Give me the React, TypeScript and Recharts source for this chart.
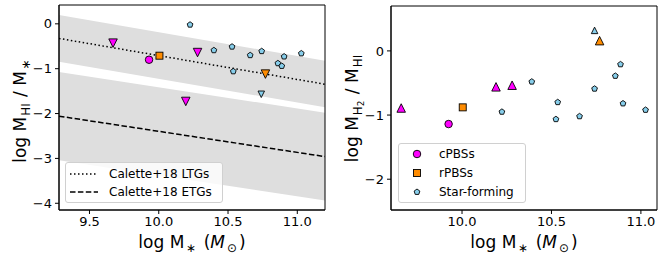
import React from "react";
import { ComposedChart, Scatter, Line, Area, XAxis, YAxis, ReferenceArea } from "recharts";

// Calette+18 relations, read at the two edges of the left panel
const caletteX = [9.28, 11.2];
const ltgMid = [-0.325, -1.346];
const ltgLow = [-0.845, -1.86];
const ltgHigh = [0.196, -0.825];
const etgMid = [-2.058, -2.96];
const etgLow = [-3.04, -3.94];
const etgHigh = [-1.076, -1.98];

// left panel: log MHI / M*
const hiCpbs = [{ x: 9.93, y: -0.8 }];
const hiRpbs = [{ x: 10.005, y: -0.71 }];
const hiCpbsLim = [
  { x: 9.67, y: -0.43 },
  { x: 10.28, y: -0.64 },
  { x: 10.195, y: -1.73 },
];
const hiRpbsLim = [{ x: 10.77, y: -1.12 }];
const hiSfLim = [{ x: 10.74, y: -1.57 }];
const hiSf = [
  { x: 10.226, y: -0.02 },
  { x: 10.398, y: -0.59 },
  { x: 10.529, y: -0.51 },
  { x: 10.538, y: -1.06 },
  { x: 10.66, y: -0.7 },
  { x: 10.743, y: -0.61 },
  { x: 10.86, y: -0.88 },
  { x: 10.888, y: -0.94 },
  { x: 10.905, y: -0.73 },
  { x: 11.029, y: -0.66 },
];

// right panel: log MH2 / MHI
const h2Cpbs = [{ x: 9.925, y: -1.14 }];
const h2Rpbs = [{ x: 10.004, y: -0.88 }];
const h2CpbsLim = [
  { x: 9.66, y: -0.89 },
  { x: 10.19, y: -0.56 },
  { x: 10.28, y: -0.535 },
];
const h2RpbsLim = [{ x: 10.769, y: 0.16 }];
const h2SfLim = [{ x: 10.741, y: 0.32 }];
const h2Sf = [
  { x: 10.223, y: -0.95 },
  { x: 10.39, y: -0.48 },
  { x: 10.525, y: -1.065 },
  { x: 10.535, y: -0.8 },
  { x: 10.657, y: -1.02 },
  { x: 10.741, y: -0.59 },
  { x: 10.857, y: -0.39 },
  { x: 10.886, y: -0.21 },
  { x: 10.9, y: -0.82 },
  { x: 11.026, y: -0.92 },
];

const leftTicksX = [9.5, 10, 10.5, 11];
const leftTicksY = [-4, -3, -2, -1, 0];
const rightTicksX = [10, 10.5, 11];
const rightTicksY = [-2, -1, 0];

const MAGENTA = "#ff00ff";
const ORANGE = "#ff8c00";
const SKY = "#87ceeb";
const BAND = "#dedede";
const FONT = '"DejaVu Sans", sans-serif';

const caletteRows = caletteX.map((x, i) => ({
  x,
  ltg: ltgMid[i],
  ltgBand: [ltgLow[i], ltgHigh[i]],
  etg: etgMid[i],
  etgBand: [etgLow[i], etgHigh[i]],
}));

const fmt = (v: number, d: number) => (v < 0 ? "\u2212" + Math.abs(v).toFixed(d) : v.toFixed(d));

function Marker({ cx, cy, kind, fill, size }: any) {
  const s = size / 2;
  const common = { fill, stroke: "#000", strokeWidth: 0.9 };
  if (kind === "circle") return <circle cx={cx} cy={cy} r={s} {...common} />;
  if (kind === "square") return <rect x={cx - s} y={cy - s} width={size} height={size} {...common} />;
  if (kind === "down")
    return <polygon points={`${cx - s},${cy - s} ${cx + s},${cy - s} ${cx},${cy + s}`} {...common} />;
  if (kind === "up")
    return <polygon points={`${cx - s},${cy + s} ${cx + s},${cy + s} ${cx},${cy - s}`} {...common} />;
  const pts = [0, 1, 2, 3, 4]
    .map((k) => {
      const a = -Math.PI / 2 + (k * 2 * Math.PI) / 5;
      return `${cx + s * Math.cos(a)},${cy + s * Math.sin(a)}`;
    })
    .join(" ");
  return <polygon points={pts} {...common} />;
}

const shape = (kind: string, fill: string, size: number) => (p: any) =>
  <Marker cx={p.cx} cy={p.cy} kind={kind} fill={fill} size={size} />;

const tickStyle = { fontSize: 13, fill: "#000", fontFamily: FONT };

const sub = (t: string, gap = 1) => (
  <span style={{ fontSize: "0.7em", position: "relative", top: "0.3em", margin: `0 ${gap}px` }}>{t}</span>
);

const xLabel = (
  <span>
    log M{sub("\u2217", 2)} (<i>M</i>{sub("\u2299", 2)})
  </span>
);

const labelBox = { position: "absolute" as const, fontSize: 17, lineHeight: "20px", textAlign: "center" as const, whiteSpace: "nowrap" as const };

export default function App() {
  return (
    <div style={{ position: "absolute", left: 0, top: 0, width: 664, height: 262, background: "#fff", fontFamily: FONT }}>
      <div style={{ position: "absolute", left: 0, top: 0 }}>
        <ComposedChart width={330} height={262} data={caletteRows} margin={{ top: 5, right: 5, bottom: 0, left: 0 }}>
          <XAxis
            dataKey="x"
            type="number"
            domain={[9.28, 11.2]}
            ticks={leftTicksX}
            tickFormatter={(v) => fmt(v, 1)}
            allowDataOverflow
            height={52}
            tick={tickStyle}
            tickSize={4}
            tickMargin={3}
            stroke="#000"
          />
          <YAxis
            type="number"
            domain={[-4.15, 0.42]}
            ticks={leftTicksY}
            tickFormatter={(v) => fmt(v, 0)}
            allowDataOverflow
            width={59}
            tick={tickStyle}
            tickSize={4}
            tickMargin={3}
            stroke="#000"
          />
          <Area dataKey="ltgBand" type="linear" fill={BAND} fillOpacity={1} stroke="none" isAnimationActive={false} />
          <Area dataKey="etgBand" type="linear" fill={BAND} fillOpacity={1} stroke="none" isAnimationActive={false} />
          <Line dataKey="ltg" type="linear" stroke="#000" strokeWidth={1.5} strokeDasharray="1.5 2.5" dot={false} isAnimationActive={false} />
          <Line dataKey="etg" type="linear" stroke="#000" strokeWidth={1.5} strokeDasharray="5.5 2.4" dot={false} isAnimationActive={false} />
          <ReferenceArea x1={9.28} x2={11.2} y1={-4.15} y2={0.42} fill="none" stroke="#000" strokeWidth={1} />
          <Scatter data={hiSf} dataKey="y" shape={shape("pent", SKY, 6)} isAnimationActive={false} />
          <Scatter data={hiSfLim} dataKey="y" shape={shape("down", SKY, 6.5)} isAnimationActive={false} />
          <Scatter data={hiCpbsLim} dataKey="y" shape={shape("down", MAGENTA, 8.5)} isAnimationActive={false} />
          <Scatter data={hiRpbsLim} dataKey="y" shape={shape("down", ORANGE, 8.5)} isAnimationActive={false} />
          <Scatter data={hiCpbs} dataKey="y" shape={shape("circle", MAGENTA, 7.5)} isAnimationActive={false} />
          <Scatter data={hiRpbs} dataKey="y" shape={shape("square", ORANGE, 7)} isAnimationActive={false} />
        </ComposedChart>
      </div>

      <div style={{ position: "absolute", left: 332, top: 0 }}>
        <ComposedChart width={332} height={262} margin={{ top: 6, right: 7, bottom: 0, left: 0 }}>
          <XAxis
            dataKey="x"
            type="number"
            domain={[9.603, 11.09]}
            ticks={rightTicksX}
            tickFormatter={(v) => fmt(v, 1)}
            allowDataOverflow
            height={52}
            tick={tickStyle}
            tickSize={4}
            tickMargin={3}
            stroke="#000"
          />
          <YAxis
            type="number"
            domain={[-2.48, 0.7]}
            ticks={rightTicksY}
            tickFormatter={(v) => fmt(v, 0)}
            allowDataOverflow
            width={59}
            tick={tickStyle}
            tickSize={4}
            tickMargin={3}
            stroke="#000"
          />
          <ReferenceArea x1={9.603} x2={11.09} y1={-2.48} y2={0.7} fill="none" stroke="#000" strokeWidth={1} />
          <Scatter data={h2Sf} dataKey="y" shape={shape("pent", SKY, 6)} isAnimationActive={false} />
          <Scatter data={h2SfLim} dataKey="y" shape={shape("up", SKY, 6.5)} isAnimationActive={false} />
          <Scatter data={h2CpbsLim} dataKey="y" shape={shape("up", MAGENTA, 8.5)} isAnimationActive={false} />
          <Scatter data={h2RpbsLim} dataKey="y" shape={shape("up", ORANGE, 8.5)} isAnimationActive={false} />
          <Scatter data={h2Cpbs} dataKey="y" shape={shape("circle", MAGENTA, 7.5)} isAnimationActive={false} />
          <Scatter data={h2Rpbs} dataKey="y" shape={shape("square", ORANGE, 7)} isAnimationActive={false} />
        </ComposedChart>
      </div>

      {/* axis labels */}
      <div style={{ ...labelBox, left: 59, top: 232, width: 266 }}>{xLabel}</div>
      <div style={{ ...labelBox, left: 391, top: 232, width: 266 }}>{xLabel}</div>
      <div style={{ ...labelBox, left: 20 - 110, top: 110 - 10, width: 220, height: 20, transform: "rotate(-90deg)" }}>
        log M{sub("HI")} / M{sub("\u2217", 2)}
      </div>
      <div style={{ ...labelBox, left: 352 - 110, top: 108 - 10, width: 220, height: 20, transform: "rotate(-90deg)" }}>
        log M
        <span style={{ fontSize: "0.7em", position: "relative", top: "0.3em", margin: "0 1px" }}>
          H<span style={{ fontSize: "0.75em", position: "relative", top: "0.3em" }}>2</span>
        </span>{" "}
        / M{sub("HI")}
      </div>

      {/* legends */}
      <div
        style={{
          position: "absolute", left: 65, top: 162, width: 158, height: 41, boxSizing: "border-box",
          background: "rgba(255,255,255,0.8)", border: "1px solid #d0d0d0", borderRadius: 3, fontSize: 12,
        }}
      >
        {[
          { label: "Calette+18 LTGs", dash: "1.5 2.5", top: 2 },
          { label: "Calette+18 ETGs", dash: "5.5 2.4", top: 20 },
        ].map((e) => (
          <div key={e.label} style={{ position: "absolute", left: 4, top: e.top, height: 18, display: "flex", alignItems: "center" }}>
            <svg width={30} height={10}>
              <line x1={0} x2={28} y1={5} y2={5} stroke="#000" strokeWidth={1.5} strokeDasharray={e.dash} />
            </svg>
            <span style={{ marginLeft: 9 }}>{e.label}</span>
          </div>
        ))}
      </div>
      <div
        style={{
          position: "absolute", left: 398, top: 143, width: 128, height: 60, boxSizing: "border-box",
          background: "rgba(255,255,255,0.8)", border: "1px solid #d0d0d0", borderRadius: 3, fontSize: 12,
        }}
      >
        {[
          { label: "cPBSs", kind: "circle", fill: MAGENTA, size: 7.5, top: 1 },
          { label: "rPBSs", kind: "square", fill: ORANGE, size: 7, top: 20 },
          { label: "Star-forming", kind: "pent", fill: SKY, size: 6, top: 39 },
        ].map((e) => (
          <div key={e.label} style={{ position: "absolute", left: 10, top: e.top, height: 18, display: "flex", alignItems: "center" }}>
            <svg width={16} height={12}>
              <Marker cx={8} cy={6} kind={e.kind} fill={e.fill} size={e.size} />
            </svg>
            <span style={{ marginLeft: 14 }}>{e.label}</span>
          </div>
        ))}
      </div>
    </div>
  );
}
